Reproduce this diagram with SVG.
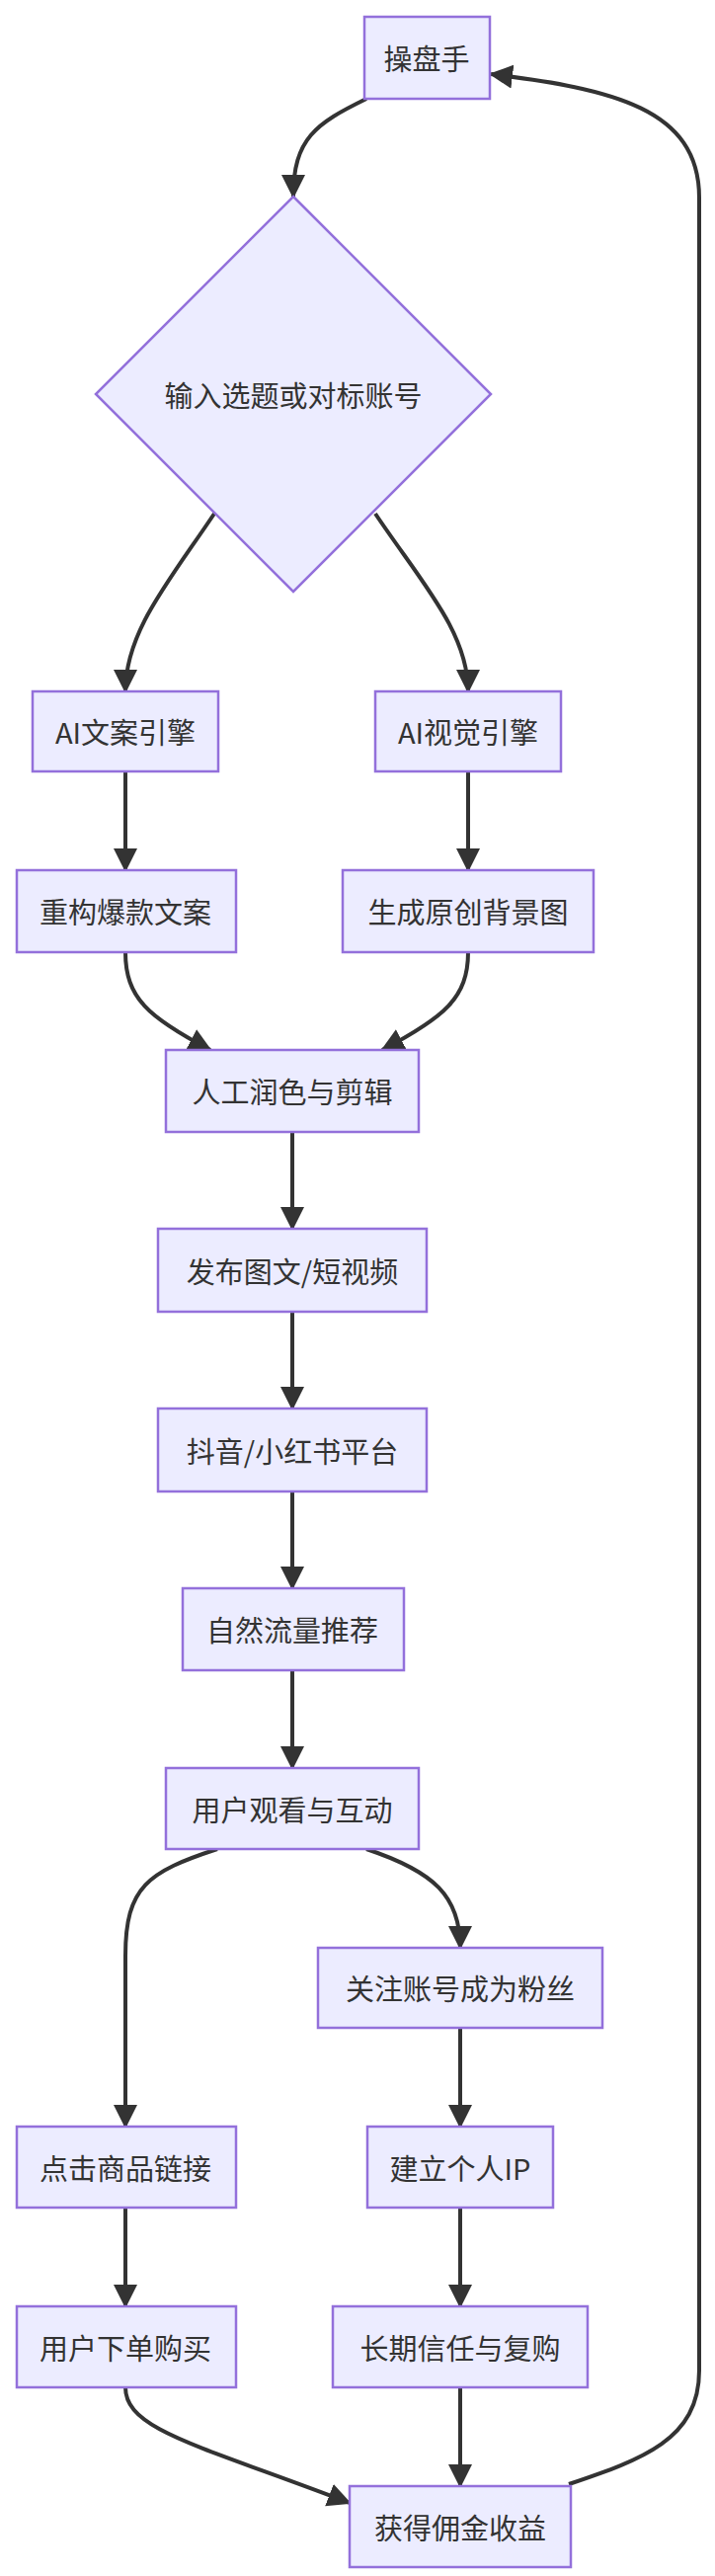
<svg xmlns="http://www.w3.org/2000/svg" width="724" height="2608" viewBox="0 0 724 2608">
<style>
.n{fill:#ECECFF;stroke:#9370DB;stroke-width:2.5}
.t{font-family:"Noto Sans CJK SC","Liberation Sans",sans-serif;font-size:29px;fill:#333;text-anchor:middle;dominant-baseline:central}
.e{fill:none;stroke:#333;stroke-width:4}
</style>
<defs>
<marker id="a" markerUnits="userSpaceOnUse" markerWidth="26" markerHeight="26" refX="22" refY="12" orient="auto">
<path d="M0,0L24,12L0,24z" fill="#333"/>
</marker>
</defs>
<rect width="724" height="2608" fill="#fff"/>
<g id="edges">
<path class="e" marker-end="url(#a)" d="M371,100 C320,125 297,140 297,199"/>
<path class="e" marker-end="url(#a)" d="M217,520 C170,590 127,640 127,700"/>
<path class="e" marker-end="url(#a)" d="M380,520 C427,590 474,640 474,700"/>
<path class="e" marker-end="url(#a)" d="M127,781 L127,881"/>
<path class="e" marker-end="url(#a)" d="M474,781 L474,881"/>
<path class="e" marker-end="url(#a)" d="M127,964 C127,1010 150,1030 213,1063"/>
<path class="e" marker-end="url(#a)" d="M474,964 C474,1010 450,1030 387,1063"/>
<path class="e" marker-end="url(#a)" d="M296,1146 L296,1244"/>
<path class="e" marker-end="url(#a)" d="M296,1328 L296,1426"/>
<path class="e" marker-end="url(#a)" d="M296,1510 L296,1608"/>
<path class="e" marker-end="url(#a)" d="M296,1691 L296,1790"/>
<path class="e" marker-end="url(#a)" d="M220,1872 C150,1895 127,1910 127,1980 L127,2153"/>
<path class="e" marker-end="url(#a)" d="M371,1872 C440,1895 466,1920 466,1972"/>
<path class="e" marker-end="url(#a)" d="M466,2053 L466,2153"/>
<path class="e" marker-end="url(#a)" d="M127,2235 L127,2335"/>
<path class="e" marker-end="url(#a)" d="M466,2235 L466,2335"/>
<path class="e" marker-end="url(#a)" d="M127,2417 C127,2460 200,2475 354,2534"/>
<path class="e" marker-end="url(#a)" d="M466,2417 L466,2517"/>
<path class="e" marker-end="url(#a)" d="M576,2515 C650,2490 708,2470 708,2400 L708,200 C708,110 620,90 497,75"/>
</g>
<g id="n1"><rect class="n" x="369" y="17" width="127" height="83"/><text class="t" x="432" y="58">操盘手</text></g>
<g id="n2"><polygon class="n" points="297,199 497,399 297,599 97,399"/><text class="t" x="297" y="399">输入选题或对标账号</text></g>
<g id="n3"><rect class="n" x="33" y="700" width="188" height="81"/><text class="t" x="127" y="740">AI文案引擎</text></g>
<g id="n4"><rect class="n" x="380" y="700" width="188" height="81"/><text class="t" x="474" y="740">AI视觉引擎</text></g>
<g id="n5"><rect class="n" x="17" y="881" width="222" height="83"/><text class="t" x="127" y="922">重构爆款文案</text></g>
<g id="n6"><rect class="n" x="347" y="881" width="254" height="83"/><text class="t" x="474" y="922">生成原创背景图</text></g>
<g id="n7"><rect class="n" x="168" y="1063" width="256" height="83"/><text class="t" x="296" y="1104">人工润色与剪辑</text></g>
<g id="n8"><rect class="n" x="160" y="1244" width="272" height="84"/><text class="t" x="296" y="1286">发布图文/短视频</text></g>
<g id="n9"><rect class="n" x="160" y="1426" width="272" height="84"/><text class="t" x="296" y="1468">抖音/小红书平台</text></g>
<g id="n10"><rect class="n" x="185" y="1608" width="224" height="83"/><text class="t" x="296" y="1649">自然流量推荐</text></g>
<g id="n11"><rect class="n" x="168" y="1790" width="256" height="82"/><text class="t" x="296" y="1831">用户观看与互动</text></g>
<g id="n12"><rect class="n" x="322" y="1972" width="288" height="81"/><text class="t" x="466" y="2012">关注账号成为粉丝</text></g>
<g id="n13"><rect class="n" x="17" y="2153" width="222" height="82"/><text class="t" x="127" y="2194">点击商品链接</text></g>
<g id="n14"><rect class="n" x="372" y="2153" width="188" height="82"/><text class="t" x="466" y="2194">建立个人IP</text></g>
<g id="n15"><rect class="n" x="17" y="2335" width="222" height="82"/><text class="t" x="127" y="2376">用户下单购买</text></g>
<g id="n16"><rect class="n" x="337" y="2335" width="258" height="82"/><text class="t" x="466" y="2376">长期信任与复购</text></g>
<g id="n17"><rect class="n" x="354" y="2517" width="224" height="82"/><text class="t" x="466" y="2558">获得佣金收益</text></g>
</svg>
